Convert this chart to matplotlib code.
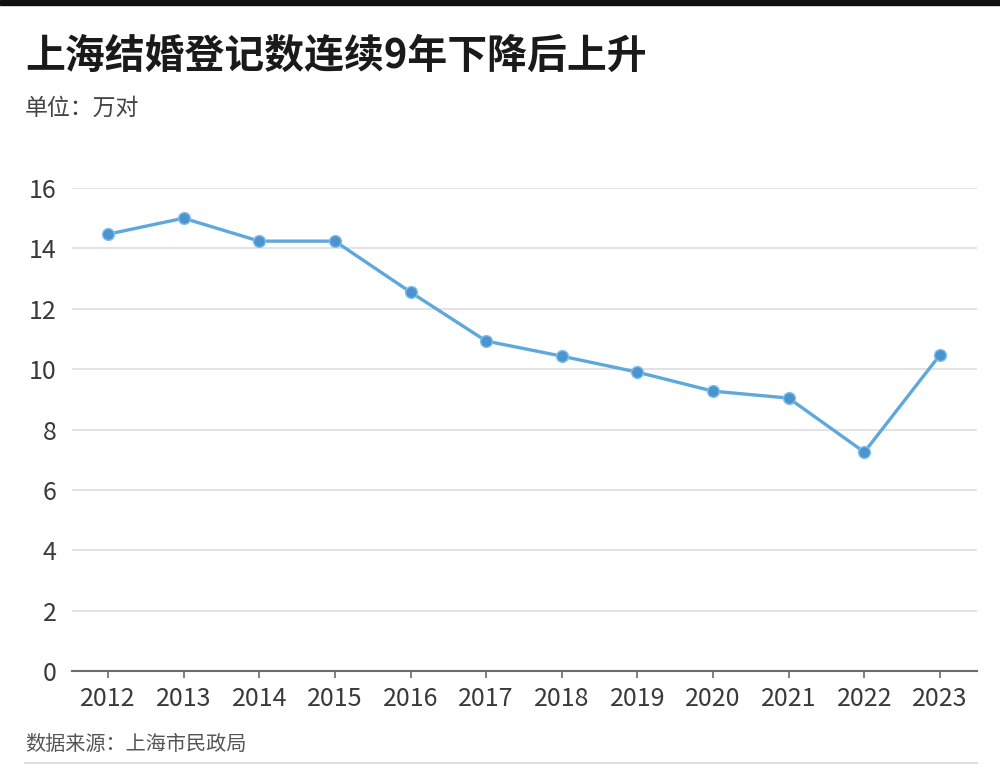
import matplotlib
matplotlib.use("Agg")
import matplotlib.pyplot as plt

plt.rcParams['font.family'] = ['Noto Sans CJK SC', 'DejaVu Sans']

years = ["2012", "2013", "2014", "2015", "2016", "2017", "2018", "2019", "2020", "2021", "2022", "2023"]
values = [14.47, 15.0, 14.24, 14.24, 12.55, 10.93, 10.43, 9.9, 9.27, 9.04, 7.25, 10.47]
yticks = [0, 2, 4, 6, 8, 10, 12, 14, 16]

title = "上海结婚登记数连续9年下降后上升"
subtitle = "单位：万对"
source = "数据来源：上海市民政局"

W, H = 1000, 770
fig = plt.figure(figsize=(W / 100, H / 100), dpi=100)
fig.patch.set_facecolor("white")

# axes: x 72..977, y 188..671 (pixels from top)
ax = fig.add_axes([72 / W, 1 - 671 / H, (977 - 72) / W, (671 - 188) / H])
x = list(range(len(years)))
ax.plot(x, values, color="#5fa8dc", lw=2.4, zorder=3,
        marker="o", markersize=8.5, markerfacecolor="#4d94cf",
        markeredgecolor="#7cc0ee", markeredgewidth=1.0)

ax.set_xlim(-0.476, 11.49)
ax.set_ylim(0, 16)
ax.set_yticks(yticks)
ax.set_yticklabels([str(t) for t in yticks])
ax.set_xticks(x)
ax.set_xticklabels(years)

ax.grid(axis="y", color="#e3e3e3", lw=1.4, zorder=0)
ax.set_axisbelow(True)
for s in ["top", "right", "left"]:
    ax.spines[s].set_visible(False)
ax.spines["bottom"].set_color("#6b6b6b")
ax.spines["bottom"].set_linewidth(1.5)
ax.spines["bottom"].set_zorder(4)

ax.tick_params(axis="y", length=0, pad=11, labelsize=18, labelcolor="#3a3a3a")
ax.tick_params(axis="x", length=5, width=1.2, color="#6b6b6b", direction="out",
               pad=6, labelsize=18, labelcolor="#3a3a3a")
ax.set_facecolor("white")

# top dark band
fig.patches.append(plt.Rectangle((0, 1 - 5 / H), 1, 5 / H, transform=fig.transFigure,
                                 color="#111111", zorder=10))

fig.text(25 / W, 1 - 56 / H, title, fontsize=28.7, fontweight="bold",
         color="#1a1a1a", va="center", ha="left")
fig.text(25 / W, 1 - 108 / H, subtitle, fontsize=16.5, color="#444444",
         va="center", ha="left")
fig.text(25 / W, 1 - 745 / H, source, fontsize=14.5, color="#555555",
         va="center", ha="left")

# bottom separator line
fig.add_artist(plt.Line2D([25 / W, 977 / W], [1 - 763 / H, 1 - 763 / H],
                          transform=fig.transFigure, color="#e0e0e0", lw=1.5))

fig.savefig("out.png", dpi=100, facecolor="white")
